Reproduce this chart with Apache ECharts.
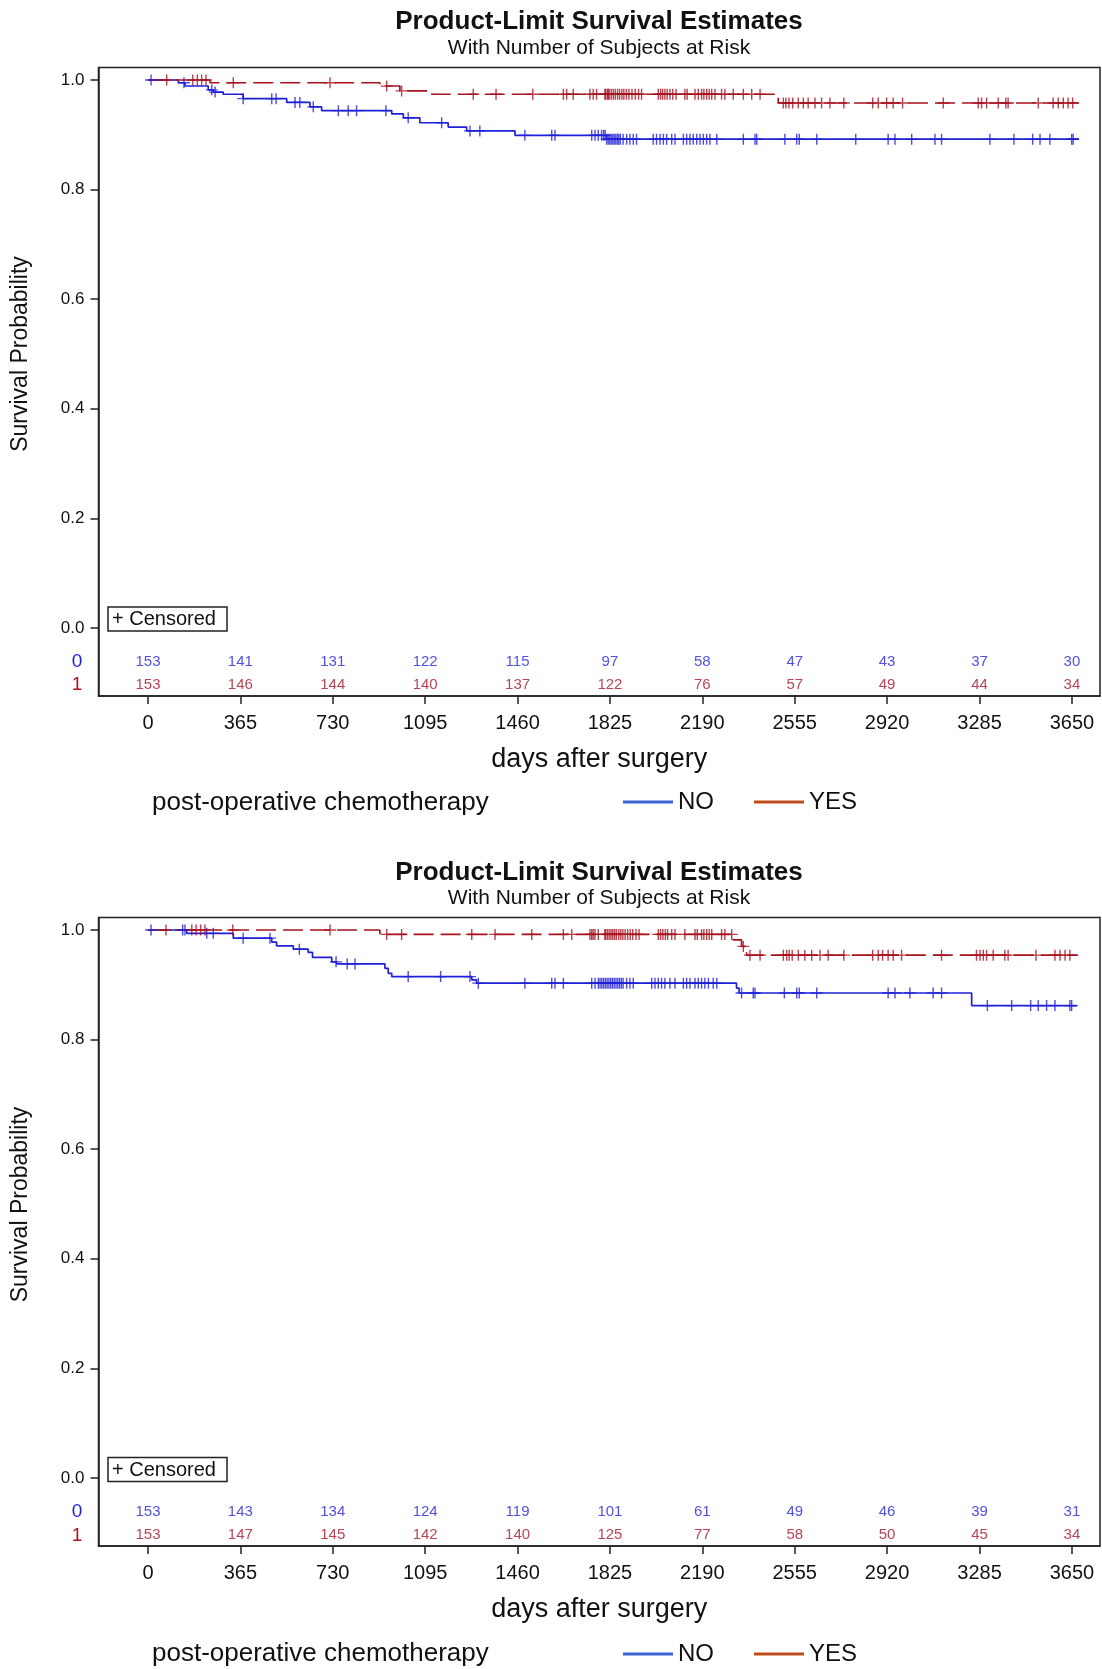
<!DOCTYPE html>
<html>
<head>
<meta charset="utf-8">
<script src="https://cdn.jsdelivr.net/npm/echarts@6/dist/echarts.min.js"></script>
<style>
html,body{margin:0;padding:0;background:#fff;}
#main{width:1102px;height:1669px;}
</style>
</head>
<body>
<div id="main"></div>
<script>
// 生存曲线图表设置

var xTicks = [0, 365, 730, 1095, 1460, 1825, 2190, 2555, 2920, 3285, 3650];
var yTicks = [0, 0.2, 0.4, 0.6, 0.8, 1.0];

// 图1 KM 阶梯 [天数, 生存率]
var km1No = [[0,1],[120,0.995],[146,0.989],[238,0.982],[258,0.978],[297,0.974],[376,0.966],[548,0.959],[640,0.951],[686,0.944],[963,0.938],[1009,0.931],[1074,0.922],[1186,0.914],[1259,0.907],[1450,0.899],[1812,0.892],[3678,0.892]];
var km1Yes = [[0,1],[245,0.995],[916,0.989],[995,0.980],[1121,0.974],[2490,0.958],[3678,0.958]];
// 图1 删失时间
var cens1No = [12,142,252,265,376,489,506,581,600,653,752,791,824,940,1028,1160,1272,1311,1489,1595,1608,1753,1766,1779,1792,1800,1806,1812,1818,1824,1830,1836,1842,1848,1854,1860,1866,1877,1891,1904,1917,1930,1996,2009,2023,2036,2049,2069,2082,2115,2128,2141,2154,2168,2181,2194,2207,2220,2247,2352,2398,2405,2516,2563,2573,2642,2796,2924,2951,3017,3109,3135,3326,3421,3495,3524,3563,3649,3655];
var cens1Yes = [74,177,195,212,229,337,719,943,1002,1285,1375,1520,1641,1654,1680,1746,1759,1772,1805,1808,1815,1818,1822,1830,1838,1846,1855,1863,1872,1880,1890,1900,1912,1925,1938,1950,2016,2025,2033,2042,2051,2062,2073,2086,2121,2130,2161,2174,2187,2196,2207,2217,2227,2240,2266,2279,2312,2352,2385,2418,2510,2520,2532,2547,2569,2589,2608,2635,2661,2694,2749,2863,2885,2918,2944,2981,3142,3280,3293,3313,3359,3389,3398,3517,3576,3596,3616,3635,3653];
// 图1 风险人数
var risk1No = [153, 141, 131, 122, 115, 97, 58, 47, 43, 37, 30];
var risk1Yes = [153, 146, 144, 140, 137, 122, 76, 57, 49, 44, 34];

// 图2
var km2No = [[0,1],[153,0.994],[337,0.985],[489,0.978],[508,0.971],[574,0.965],[633,0.959],[650,0.950],[726,0.942],[745,0.938],[936,0.930],[949,0.921],[963,0.915],[1279,0.909],[1298,0.903],[2325,0.894],[2335,0.885],[3254,0.862],[3670,0.862]];
var km2Yes = [[0,1],[916,0.992],[2312,0.982],[2345,0.970],[2365,0.954],[3674,0.954]];
var cens2No = [12,137,146,232,258,376,482,598,743,787,818,1028,1156,1272,1305,1489,1595,1608,1641,1753,1766,1779,1786,1793,1800,1807,1814,1821,1828,1835,1842,1849,1856,1863,1870,1877,1891,1904,1917,1990,2003,2016,2029,2042,2062,2082,2115,2128,2141,2161,2174,2187,2200,2214,2233,2247,2345,2391,2398,2514,2563,2573,2642,2924,2951,3010,3102,3135,3316,3412,3487,3517,3550,3583,3642,3649];
var cens2Yes = [71,173,190,208,225,335,719,943,1002,1279,1371,1516,1641,1674,1746,1753,1759,1766,1779,1805,1808,1815,1822,1829,1836,1843,1850,1860,1868,1876,1885,1895,1905,1915,1928,1940,2016,2025,2034,2044,2053,2069,2082,2121,2161,2170,2187,2196,2207,2217,2227,2266,2279,2306,2352,2378,2418,2510,2523,2533,2545,2569,2595,2622,2655,2687,2749,2863,2885,2902,2924,2944,2977,3135,3273,3287,3300,3313,3339,3385,3398,3508,3583,3603,3623,3642];
var risk2No = [153, 143, 134, 124, 119, 101, 61, 49, 46, 39, 31];
var risk2Yes = [153, 147, 145, 142, 140, 125, 77, 58, 50, 45, 34];

var FONT = "'Liberation Sans', Arial, sans-serif";
var BLUE = '#2020d8', RED = '#a8121f';
var PLUS = 'path://M5.3,0h1.4v5.3h5.3v1.4h-5.3v5.3h-1.4v-5.3h-5.3v-1.4h5.3z';

var myChart = echarts.init(document.getElementById('main'));

// 删失点的y取所在阶梯值
function survAt(km, t) {
    var s = 1;
    for (var i = 0; i < km.length; i++) {
        if (km[i][0] <= t) s = km[i][1];
    }
    return s;
}
function censData(km, times) {
    return times.map(function (t) { return [t, survAt(km, t)]; });
}
function riskData(vals, y) {
    return xTicks.map(function (t, i) { return [t, y, vals[i]]; });
}

function xAxisOf(idx) {
    return {
        type: 'value', gridIndex: idx, min: -195.5, max: 3761,
        axisLine: {show: true, onZero: false, lineStyle: {color: '#222', width: 1.5}},
        axisTick: {show: true, customValues: xTicks, length: 8, lineStyle: {color: '#222', width: 1.5}},
        axisLabel: {customValues: xTicks, fontSize: 20, color: '#111', margin: 17, fontFamily: FONT,
            formatter: function (v) { return String(v); }},
        splitLine: {show: false},
        name: 'days after surgery', nameLocation: 'middle', nameGap: 50,
        nameTextStyle: {fontSize: 27, color: '#111', fontFamily: FONT}
    };
}
function yAxisOf(idx) {
    return {
        type: 'value', gridIndex: idx, min: -0.1241, max: 1.0228,
        axisLine: {show: true, onZero: false, lineStyle: {color: '#222', width: 1.5}},
        axisTick: {show: true, customValues: yTicks, length: 8, lineStyle: {color: '#222', width: 1.5}},
        axisLabel: {customValues: yTicks, fontSize: 17, color: '#111', margin: 14, fontFamily: FONT,
            formatter: function (v) { return v.toFixed(1); }},
        splitLine: {show: false}
    };
}

function seriesOf(idx, kmNo, kmYes, censNo, censYes, riskNo, riskYes) {
    return [
        {name: 'NO', type: 'line', step: 'end', xAxisIndex: idx, yAxisIndex: idx, data: kmNo,
            showSymbol: false, symbol: 'none', lineStyle: {color: BLUE, width: 1.7}, itemStyle: {color: BLUE}, z: 3},
        {name: 'YES', type: 'line', step: 'end', xAxisIndex: idx, yAxisIndex: idx, data: kmYes,
            showSymbol: false, symbol: 'none', lineStyle: {color: RED, width: 1.7, type: [20, 7]}, itemStyle: {color: RED}, z: 3},
        {name: 'NO', type: 'scatter', xAxisIndex: idx, yAxisIndex: idx, data: censData(kmNo, censNo),
            symbol: PLUS, symbolSize: [12, 11], itemStyle: {color: BLUE}, z: 4},
        {name: 'YES', type: 'scatter', xAxisIndex: idx, yAxisIndex: idx, data: censData(kmYes, censYes),
            symbol: PLUS, symbolSize: [12, 11], itemStyle: {color: RED}, z: 4},
        {name: 'riskNo' + idx, type: 'scatter', xAxisIndex: idx, yAxisIndex: idx, data: riskData(riskNo, -0.0615),
            symbolSize: 1, itemStyle: {color: 'rgba(0,0,0,0)'},
            label: {show: true, position: 'inside', formatter: function (p) { return p.value[2]; },
                color: '#2424d6', fontSize: 15, fontFamily: FONT}},
        {name: 'riskYes' + idx, type: 'scatter', xAxisIndex: idx, yAxisIndex: idx, data: riskData(riskYes, -0.104),
            symbolSize: 1, itemStyle: {color: 'rgba(0,0,0,0)'},
            label: {show: true, position: 'inside', formatter: function (p) { return p.value[2]; },
                color: '#a8142a', fontSize: 15, fontFamily: FONT}}
    ];
}

function legendOf(top) {
    return {
        left: 623, top: top, orient: 'horizontal', padding: 0,
        itemWidth: 50, itemHeight: 3, itemGap: 40, icon: 'rect', selectedMode: false,
        textStyle: {fontSize: 24, color: '#111', fontFamily: FONT},
        data: [{name: 'NO', itemStyle: {color: '#3b65d4'}}, {name: 'YES', itemStyle: {color: '#c04a1a'}}]
    };
}

function textEl(x, y, text, font, fill, align, rot) {
    return {type: 'text', x: x, y: y, rotation: rot || 0, silent: true,
        style: {text: text, font: font, fill: fill || '#111', align: align || 'center', verticalAlign: 'middle'}};
}

function decor(off) {
    return [
        textEl(599, 22 + off, 'Product-Limit Survival Estimates', 'bold 26px ' + FONT),
        textEl(599, 48 + off, 'With Number of Subjects at Risk', '21px ' + FONT),
        textEl(21, 354 + off, 'Survival Probability', '23px ' + FONT, '#111', 'center', Math.PI / 2),
        textEl(77, 661.7 + off, '0', '19px ' + FONT, '#2020e0'),
        textEl(77, 685 + off, '1', '19px ' + FONT, '#b01020'),
        {type: 'rect', silent: true, shape: {x: 108, y: 607 + off, width: 119, height: 24},
            style: {fill: '#fff', stroke: '#222', lineWidth: 1.5}, z: 10},
        textEl(112, 619.5 + off, '+ Censored', '20px ' + FONT, '#111', 'left'),
        textEl(152, 803 + off, 'post-operative chemotherapy', '26px ' + FONT, '#111', 'left')
    ];
}

var g = decor(0).concat(decor(850.5));
g.forEach(function (e) { if (e.type === 'text') e.z = 11; });

var option = {
    animation: false,
    backgroundColor: '#fff',
    grid: [
        {left: 98.5, top: 67.5, width: 1001.5, height: 628.5, show: true, borderColor: '#222', borderWidth: 1.5, backgroundColor: 'transparent'},
        {left: 98.5, top: 917.5, width: 1001.5, height: 628.5, show: true, borderColor: '#222', borderWidth: 1.5, backgroundColor: 'transparent'}
    ],
    xAxis: [xAxisOf(0), xAxisOf(1)],
    yAxis: [yAxisOf(0), yAxisOf(1)],
    legend: [legendOf(790), legendOf(1642)],
    graphic: g,
    series: seriesOf(0, km1No, km1Yes, cens1No, cens1Yes, risk1No, risk1Yes)
        .concat(seriesOf(1, km2No, km2Yes, cens2No, cens2Yes, risk2No, risk2Yes))
};

myChart.setOption(option);
</script>
</body>
</html>
